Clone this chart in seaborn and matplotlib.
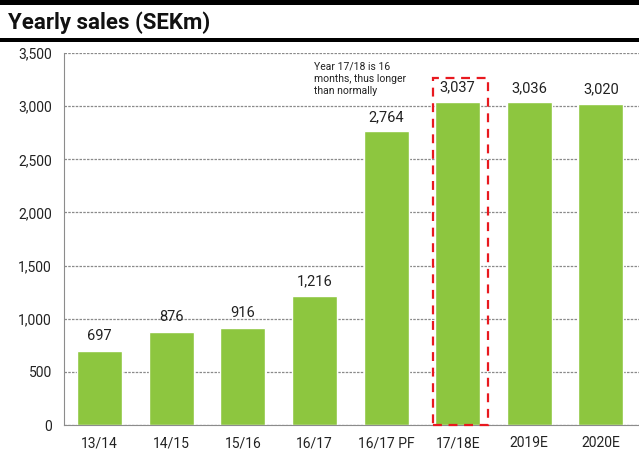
import pandas as pd
import matplotlib.pyplot as plt
import matplotlib.patches as mpatches
import seaborn as sns

# Yearly sales data (SEKm)
periods = ["13/14", "14/15", "15/16", "16/17", "16/17 PF", "17/18E", "2019E", "2020E"]
sales = [697, 876, 916, 1216, 2764, 3037, 3036, 3020]
note = "Year 17/18 is 16\nmonths, thus longer\nthan normally"

df = pd.DataFrame({"Period": periods, "Sales": sales})

sns.set_style("white")
plt.rcParams["font.family"] = ["Roboto", "DejaVu Sans"]

fig = plt.figure(figsize=(6.39, 4.57), dpi=100)
ax = fig.add_axes([0.100, 0.070, 0.902, 0.814])

sns.barplot(x="Period", y="Sales", data=df, color="#8dc63f", saturation=1, width=0.63, ax=ax)

ax.set_ylim(0, 3500)
ax.set_xlim(-0.5, 7.55)
ax.set_yticks(range(0, 3501, 500))
ax.set_yticklabels([f"{v:,}" for v in range(0, 3501, 500)])
ax.set_xlabel("")
ax.set_ylabel("")
ax.yaxis.grid(True, linestyle=(0, (2, 1)), color="#8a8a8a", linewidth=0.9)
ax.set_axisbelow(True)
for s in ["top", "right"]:
    ax.spines[s].set_visible(False)
for s in ["left", "bottom"]:
    ax.spines[s].set_color("#8c8c8c")
    ax.spines[s].set_linewidth(0.8)

# x labels at centers, tick marks at category boundaries
ax.set_xticks([i for i in range(len(periods))])
ax.set_xticklabels(periods)
ax.tick_params(axis="x", length=0, pad=8, labelsize=10, colors="#222222")
ax.set_xticks([i - 0.5 for i in range(len(periods) + 1)], minor=True)
ax.tick_params(axis="x", which="minor", length=5, color="#8c8c8c")
ax.tick_params(axis="y", length=5, color="#8c8c8c", labelsize=10, labelcolor="#222222")

# value labels
for bar, v in zip(ax.patches, sales):
    ax.text(bar.get_x() + bar.get_width() / 2, v + 70, f"{v:,}",
            ha="center", va="bottom", fontsize=10.5, color="#222222")

# highlight box around 17/18E
ax.add_patch(mpatches.Rectangle((4.65, 0), 0.78, 3265, fill=False,
                                edgecolor="#e8191f", linewidth=1.6,
                                linestyle=(0, (4, 3)), clip_on=False, zorder=5))
ax.text(3.0, 3420, note, ha="left", va="top", fontsize=7.5, color="#222222", linespacing=1.3)

# header bars and title
fig.add_artist(mpatches.Rectangle((0, 0.989), 1, 0.011, transform=fig.transFigure,
                                  color="black", lw=0))
fig.add_artist(mpatches.Rectangle((0, 0.908), 1, 0.009, transform=fig.transFigure,
                                  color="black", lw=0))
fig.text(0.012, 0.950, "Yearly sales (SEKm)", fontsize=16, fontweight="bold",
         ha="left", va="center", color="#111111")

plt.savefig("out.png", dpi=100)
